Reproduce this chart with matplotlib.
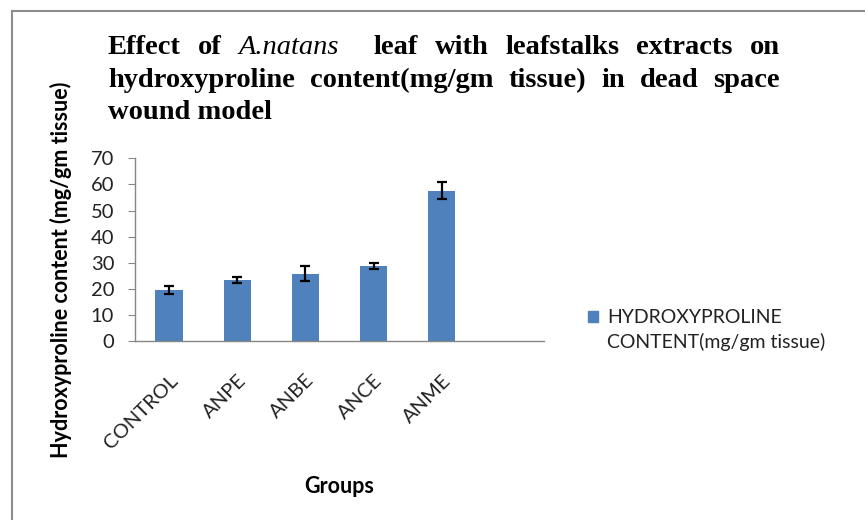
import matplotlib
matplotlib.use('Agg')
import matplotlib.pyplot as plt
from matplotlib.patches import Rectangle
from matplotlib.lines import Line2D
from matplotlib.legend_handler import HandlerPatch

# data
groups = ['CONTROL', 'ANPE', 'ANBE', 'ANCE', 'ANME']
hyp_mean = [19.4, 23.3, 25.7, 28.7, 57.6]
hyp_err = [1.5, 1.1, 2.9, 1.3, 3.3]
yticks = [0, 10, 20, 30, 40, 50, 60, 70]
series_name = 'HYDROXYPROLINE\nCONTENT(mg/gm tissue)'

# title lines as (word, italic, gap weight after word) so they can be justified
title_lines = [
    [('Effect', 0, 1), ('of', 0, 1), ('A.natans', 1, 2), ('leaf', 0, 1), ('with', 0, 1),
     ('leafstalks', 0, 1), ('extracts', 0, 1), ('on', 0, 0)],
    [('hydroxyproline', 0, 1), ('content(mg/gm', 0, 1), ('tissue)', 0, 1), ('in', 0, 1),
     ('dead', 0, 1), ('space', 0, 0)],
    [('wound model', 0, 0)],
]

W, H = 865, 520
BAR = '#4F81BD'
GREY = '#868686'
SANS = ['Lato', 'DejaVu Sans']
SERIF = ['Liberation Serif', 'DejaVu Serif']

fig = plt.figure(figsize=(W / 100, H / 100), dpi=100)
ax = fig.add_axes([135 / W, 1 - 341 / H, 409 / W, 182.7 / H])

x = list(range(len(groups)))
ax.bar(x, hyp_mean, width=0.4, color=BAR, zorder=2)
ax.errorbar(x, hyp_mean, yerr=hyp_err, fmt='none', ecolor='black',
            elinewidth=1.6, capsize=3.6, capthick=1.6, zorder=3)

ax.set_xlim(-0.5, 5.5)
ax.set_ylim(0, 70)
ax.set_yticks(yticks)
ax.set_xticks(x)
ax.set_xticklabels(groups, rotation=45, ha='right', va='top',
                   rotation_mode='anchor', family=SANS, fontsize=14.5, color='#222222')
for lab in ax.get_yticklabels():
    lab.set_family(SANS)
    lab.set_fontsize(14.5)
    lab.set_color('#222222')

for s in ['top', 'right']:
    ax.spines[s].set_visible(False)
for s in ['left', 'bottom']:
    ax.spines[s].set_color(GREY)
    ax.spines[s].set_linewidth(1.0)
ax.tick_params(axis='y', direction='out', length=5, color=GREY, pad=10)
ax.tick_params(axis='x', length=0, pad=22)

ax.set_ylabel('Hydroxyproline content (mg/gm tissue)', family=SANS,
              fontsize=15.5, fontweight='bold', color='black')
ax.yaxis.set_label_coords(-0.155, 0.39)
ax.set_xlabel('Groups', family=SANS, fontsize=15.5, fontweight='bold', color='black')
ax.xaxis.set_label_coords(0.5, -0.74)


# legend square sits beside the first line of the two-line label
def top_square(legend, orig_handle, xdescent, ydescent, width, height, fontsize):
    return Rectangle((-xdescent, -ydescent + 0.7 * fontsize), width, height)


leg = fig.legend([Rectangle((0, 0), 1, 1, color=BAR)], [series_name],
                 loc='center left', bbox_to_anchor=(570 / W, 1 - 330 / H),
                 frameon=False, handlelength=0.55, handleheight=0.55, handletextpad=0.45,
                 prop={'family': SANS, 'size': 14},
                 handler_map={Rectangle: HandlerPatch(patch_func=top_square)})
for t in leg.get_texts():
    t.set_linespacing(1.5)
    t.set_color('#222222')

# justified title
renderer = fig.canvas.get_renderer()
x0, x1 = 108, 780
baselines = [54, 87, 119]
for words, base in zip(title_lines, baselines):
    texts = []
    for w, it, g in words:
        t = fig.text(0, 1 - base / H, w, family=SERIF, fontsize=20.5,
                     fontweight='normal' if it else 'bold',
                     style='italic' if it else 'normal', va='baseline', ha='left')
        texts.append(t)
    widths = [t.get_window_extent(renderer).width for t in texts]
    weights = [g for _, _, g in words]
    unit = (x1 - x0 - sum(widths)) / sum(weights) if sum(weights) else 0
    cur = x0
    for t, wd, g in zip(texts, widths, weights):
        t.set_x(cur / W)
        cur += wd + unit * g

# chart frame (only left and top edges show in the reference)
fig.add_artist(Line2D([12 / W, 12 / W], [0, 1 - 11 / H], color='#8c8c8c', lw=1.5))
fig.add_artist(Line2D([12 / W, 1], [1 - 11 / H, 1 - 11 / H], color='#8c8c8c', lw=1.5))

fig.savefig('out.png', dpi=100)
